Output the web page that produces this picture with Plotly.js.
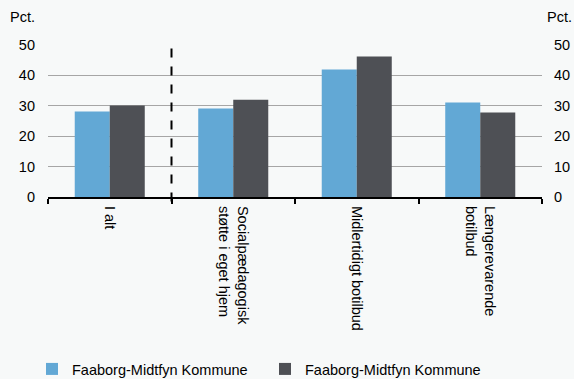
<!DOCTYPE html>
<html>
<head>
<meta charset="utf-8">
<script src="https://cdn.plot.ly/plotly-3.0.1.min.js"></script>
<style>
html,body{margin:0;padding:0;background:#f7f9f9;}
#chart{width:574px;height:379px;}
</style>
</head>
<body>
<div id="chart"></div>
<script>
const categories = ["I alt", "Socialpædagogisk<br>støtte i eget hjem", "Midlertidigt botilbud", "Længerevarende<br>botilbud"];
const seriesNames = ["Faaborg-Midtfyn Kommune", "Faaborg-Midtfyn Kommune"];
const series1 = [28.1, 29.1, 41.9, 31.1];
const series2 = [30.1, 32.0, 46.2, 27.8];
const yTicks = [0, 10, 20, 30, 40, 50];

const font = {family: "Arial, 'Liberation Sans', sans-serif", size: 14.5, color: "#000"};

const traces = [
  {type: "bar", x: categories, y: series1, name: seriesNames[0], marker: {color: "#62a8d5"}},
  {type: "bar", x: categories, y: series2, name: seriesNames[1], marker: {color: "#4e5055"}},
  {type: "scatter", mode: "markers", x: [categories[0]], y: [null], yaxis: "y2",
   showlegend: false, hoverinfo: "skip", marker: {opacity: 0}}
];

const layout = {
  width: 574, height: 379,
  margin: {l: 48, r: 32, t: 45, b: 182},
  paper_bgcolor: "#f7f9f9",
  plot_bgcolor: "#f7f9f9",
  font: font,
  barmode: "group",
  bargap: 0.433,
  bargroupgap: 0,
  showlegend: true,
  legend: {
    orientation: "h",
    xref: "container", yref: "container",
    x: 32 / 574, xanchor: "left",
    y: 10 / 379, yanchor: "middle",
    entrywidth: 188, entrywidthmode: "pixels",
    font: font,
    bgcolor: "rgba(0,0,0,0)",
    traceorder: "normal"
  },
  xaxis: {
    type: "category",
    automargin: false,
    tickangle: 90,
    tickson: "boundaries",
    ticks: "outside", ticklen: 5, tickwidth: 2, tickcolor: "#000",
    ticklabelstandoff: 4,
    showline: true, linecolor: "#000", linewidth: 2,
    showgrid: false,
    tickfont: font,
    fixedrange: true
  },
  yaxis: {
    automargin: false,
    range: [0, 50],
    tickvals: yTicks,
    showgrid: true, gridcolor: "#a6a6a6", gridwidth: 1,
    zeroline: false,
    showline: false,
    ticks: "",
    ticklabelstandoff: 12,
    tickfont: font
  },
  yaxis2: {
    automargin: false,
    range: [0, 50],
    tickvals: yTicks,
    overlaying: "y",
    side: "right",
    showgrid: false,
    zeroline: false,
    showline: false,
    ticks: "",
    ticklabelstandoff: 11,
    tickfont: font
  },
  shapes: [
    {type: "line", xref: "x", yref: "paper", x0: 0.5, x1: 0.5, y0: -0.03, y1: 1,
     line: {color: "#000", width: 2, dash: "dash"}}
  ],
  annotations: [
    {text: "Pct.", xref: "paper", yref: "paper", x: (8 - 48) / 494, y: (197 - 17) / 152, xanchor: "left", yanchor: "middle", showarrow: false, font: font},
    {text: "Pct.", xref: "paper", yref: "paper", x: (574 - 48) / 494, y: (197 - 17) / 152, xanchor: "right", yanchor: "middle", showarrow: false, font: font}
  ]
};

Plotly.newPlot("chart", traces, layout, {displayModeBar: false, staticPlot: true});
</script>
</body>
</html>
